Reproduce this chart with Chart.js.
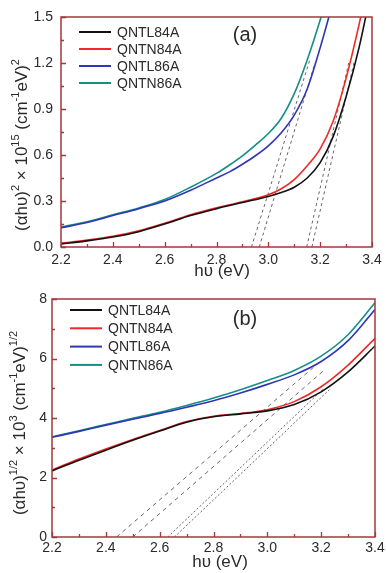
<!DOCTYPE html>
<html>
<head>
<meta charset="utf-8">
<script src="https://cdn.jsdelivr.net/npm/chart.js@4.4.1/dist/chart.umd.min.js"></script>
<style>
  html, body { margin: 0; padding: 0; background: #fff; }
  #wrap { position: relative; width: 386px; height: 573px; }
  canvas { position: absolute; left: 0; }
</style>
</head>
<body>
<div id="wrap">
  <canvas id="chartA" width="386" height="286" style="top:0"></canvas>
  <canvas id="chartB" width="386" height="287" style="top:286px"></canvas>
</div>
<script>
// series names (legend order)
var seriesNames = ['QNTL84A', 'QNTN84A', 'QNTL86A', 'QNTN86A'];

// ---- panel (a): (ahv)^2 x 10^15 ----
var energyA84 = [2.2, 2.3, 2.4, 2.5, 2.6, 2.7, 2.8, 2.9, 3.0, 3.05, 3.1, 3.15, 3.2, 3.25, 3.3, 3.35, 3.4];
var qntl84A_a = [0.02, 0.04, 0.065, 0.10, 0.15, 0.205, 0.25, 0.29, 0.33, 0.355, 0.39, 0.45, 0.55, 0.72, 0.98, 1.30, 1.70];
var qntn84A_a = [0.025, 0.045, 0.07, 0.105, 0.155, 0.21, 0.255, 0.295, 0.34, 0.38, 0.44, 0.53, 0.64, 0.82, 1.10, 1.45, 1.85];
var energyA86 = [2.2, 2.3, 2.4, 2.5, 2.6, 2.7, 2.8, 2.85, 2.9, 2.95, 3.0, 3.05, 3.1, 3.15, 3.2, 3.25];
var qntl86A_a = [0.125, 0.16, 0.205, 0.25, 0.30, 0.37, 0.45, 0.49, 0.54, 0.595, 0.66, 0.745, 0.86, 1.03, 1.30, 1.60];
var qntn86A_a = [0.13, 0.165, 0.21, 0.255, 0.31, 0.39, 0.48, 0.535, 0.595, 0.665, 0.74, 0.84, 1.00, 1.22, 1.48, 1.78];
// tangent (extrapolation) lines, [start, end]
var tangentA_E = [[2.935, 3.16], [2.965, 3.18], [3.148, 3.31], [3.168, 3.33]];
var tangentA_V = [[0, 1.22], [0, 1.2], [0, 1.2], [0, 1.2]];

// ---- panel (b): (ahv)^1/2 x 10^3 ----
var energyB = [2.2, 2.3, 2.4, 2.5, 2.6, 2.7, 2.8, 2.9, 3.0, 3.1, 3.2, 3.3, 3.4];
var qntl84A_b = [2.22, 2.58, 2.92, 3.25, 3.56, 3.86, 4.04, 4.14, 4.24, 4.45, 4.88, 5.55, 6.42];
var qntn84A_b = [2.25, 2.62, 2.96, 3.28, 3.58, 3.88, 4.06, 4.15, 4.28, 4.55, 5.05, 5.78, 6.68];
var qntl86A_b = [3.35, 3.55, 3.76, 3.96, 4.15, 4.36, 4.58, 4.84, 5.13, 5.45, 5.90, 6.60, 7.65];
var qntn86A_b = [3.37, 3.57, 3.78, 3.99, 4.19, 4.42, 4.67, 4.95, 5.26, 5.60, 6.08, 6.80, 7.87];
var tangentB_E = [[2.44, 3.19], [2.50, 3.21], [2.63, 3.21], [2.655, 3.23]];
var tangentB_V = [[0, 5.85], [0, 5.6], [0, 5.0], [0, 4.95]];

// ticks
var xTicks = [2.2, 3.4, 0.2];
var yTicksA = [0, 1.5, 0.3];
var yTicksB = [0, 8, 2];

var lineColors = ['#111111', '#f02828', '#3036b4', '#138f86'];
var FRAME = '#a3393b';
var TEXT = '#2a2a2a';
var FONT = '"Liberation Sans", Arial, sans-serif';

function pts(xs, ys) {
    return xs.map(function (x, i) { return { x: x, y: ys[i] }; });
}

function buildDatasets(curves, tanE, tanV, dashes) {
    var sets = [];
    curves.forEach(function (c, i) {
        sets.push({
            label: seriesNames[i],
            data: pts(c[0], c[1]),
            borderColor: lineColors[i],
            borderWidth: 1.6,
            pointRadius: 0,
            cubicInterpolationMode: 'monotone',
            fill: false
        });
    });
    tanE.forEach(function (e, i) {
        sets.push({
            label: '',
            data: pts(e, tanV[i]),
            borderColor: '#666',
            borderWidth: 1,
            borderDash: dashes[i],
            pointRadius: 0,
            fill: false
        });
    });
    return sets;
}

// frame, inward ticks, titles, legend
var decorPlugin = {
    id: 'decor',
    afterDraw: function (chart, args, o) {
        var ctx = chart.ctx, a = chart.chartArea;
        var xs = chart.scales.x, ys = chart.scales.y;
        var i, n, v, p;
        ctx.save();
        ctx.strokeStyle = FRAME;
        ctx.lineWidth = 1.3;
        ctx.beginPath();
        n = Math.round((xs.max - xs.min) / o.xMinor);
        for (i = 0; i <= n; i++) {
            v = xs.min + i * o.xMinor;
            p = Math.round(xs.getPixelForValue(v)) + 0.5;
            ctx.moveTo(p, a.bottom);
            ctx.lineTo(p, a.bottom - (i % 2 === 0 ? 5 : 3));
        }
        n = Math.round((ys.max - ys.min) / o.yMinor);
        for (i = 0; i <= n; i++) {
            v = ys.min + i * o.yMinor;
            p = Math.round(ys.getPixelForValue(v)) + 0.5;
            ctx.moveTo(a.left, p);
            ctx.lineTo(a.left + (i % 2 === 0 ? 5 : 3), p);
        }
        ctx.stroke();
        ctx.lineWidth = 1.5;
        ctx.strokeRect(a.left, a.top, a.right - a.left, a.bottom - a.top);

        // legend
        ctx.font = '14px ' + FONT;
        ctx.textBaseline = 'middle';
        ctx.textAlign = 'left';
        for (i = 0; i < seriesNames.length; i++) {
            var ly = o.legY + i * o.legStep;
            ctx.strokeStyle = lineColors[i];
            ctx.lineWidth = 2;
            ctx.beginPath();
            ctx.moveTo(o.legX, ly);
            ctx.lineTo(o.legX + 32, ly);
            ctx.stroke();
            ctx.fillStyle = TEXT;
            ctx.fillText(seriesNames[i], o.legX + 38, ly + 1);
        }

        // panel label
        ctx.font = '20px ' + FONT;
        ctx.textAlign = 'center';
        ctx.fillText(o.panel, o.panelX, o.panelY);

        // x title
        ctx.font = '17px ' + FONT;
        ctx.fillText('h\u03c5 (eV)', o.xTitleX, o.xTitleY);

        // y title with superscripts, rotated
        var big = '17px ' + FONT, small = '11px ' + FONT;
        var w = 0;
        o.yTitle.forEach(function (s) {
            ctx.font = s[1] ? small : big;
            w += ctx.measureText(s[0]).width;
        });
        ctx.translate(o.yTitleX, o.yTitleY);
        ctx.rotate(-Math.PI / 2);
        ctx.textAlign = 'left';
        ctx.textBaseline = 'alphabetic';
        var cx = -w / 2;
        o.yTitle.forEach(function (s) {
            ctx.font = s[1] ? small : big;
            ctx.fillText(s[0], cx, s[1] ? -8 : 0);
            cx += ctx.measureText(s[0]).width;
        });
        ctx.restore();
    }
};

function makeOptions(cfg) {
    return {
        responsive: false,
        animation: false,
        devicePixelRatio: 1,
        layout: { padding: { left: 0, right: cfg.padRight, top: cfg.padTop, bottom: 0 } },
        plugins: {
            legend: { display: false },
            tooltip: { enabled: false },
            decor: cfg.decor
        },
        scales: {
            x: {
                type: 'linear',
                min: xTicks[0], max: xTicks[1],
                grid: { display: false, drawTicks: false },
                border: { display: false },
                ticks: {
                    stepSize: xTicks[2], padding: cfg.xPad, color: TEXT, maxRotation: 0, autoSkip: false,
                    font: { family: FONT, size: 14 },
                    callback: function (v) { return Number(v).toFixed(1); }
                },
                afterFit: function (s) { s.height = cfg.xHeight; s.paddingLeft = 0; s.paddingRight = 0; }
            },
            y: {
                type: 'linear',
                min: cfg.yTicks[0], max: cfg.yTicks[1],
                grid: { display: false, drawTicks: false },
                border: { display: false },
                ticks: {
                    stepSize: cfg.yTicks[2], padding: cfg.yPad, color: TEXT, autoSkip: false,
                    font: { family: FONT, size: 14 },
                    callback: function (v) { return Number(v).toFixed(cfg.yDec); }
                },
                afterFit: function (s) { s.width = cfg.yWidth; s.paddingTop = 0; s.paddingBottom = 0; }
            }
        }
    };
}

var dashA = [[3, 3], [3, 3], [3, 3], [3, 3]];
var dashB = [[4, 4], [4, 4], [2, 2], [2, 2]];

new Chart(document.getElementById('chartA').getContext('2d'), {
    type: 'line',
    data: {
        datasets: buildDatasets([
            [energyA84, qntl84A_a], [energyA84, qntn84A_a], [energyA86, qntl86A_a], [energyA86, qntn86A_a]
        ], tangentA_E, tangentA_V, dashA)
    },
    options: makeOptions({
        padRight: 14, padTop: 17, xHeight: 39, yWidth: 61, xPad: 5, yPad: 8, yDec: 1, yTicks: yTicksA,
        decor: {
            xMinor: 0.1, yMinor: 0.15, legX: 79, legY: 32, legStep: 17,
            panel: '(a)', panelX: 245, panelY: 35,
            xTitleX: 222, xTitleY: 271,
            yTitleX: 27, yTitleY: 145,
            yTitle: [['(\u03b1h\u03c5)', 0], ['2', 1], [' \u00d7 10', 0], ['15', 1], [' (cm', 0], ['-1', 1], ['eV)', 0], ['2', 1]]
        }
    }),
    plugins: [decorPlugin]
});

new Chart(document.getElementById('chartB').getContext('2d'), {
    type: 'line',
    data: {
        datasets: buildDatasets([
            [energyB, qntl84A_b], [energyB, qntn84A_b], [energyB, qntl86A_b], [energyB, qntn86A_b]
        ], tangentB_E, tangentB_V, dashB)
    },
    options: makeOptions({
        padRight: 11, padTop: 13, xHeight: 36, yWidth: 52, xPad: 3, yPad: 5, yDec: 0, yTicks: yTicksB,
        decor: {
            xMinor: 0.1, yMinor: 1, legX: 70, legY: 24, legStep: 18.3,
            panel: '(b)', panelX: 245, panelY: 33,
            xTitleX: 220, xTitleY: 276,
            yTitleX: 25, yTitleY: 137,
            yTitle: [['(\u03b1h\u03c5)', 0], ['1/2', 1], [' \u00d7 10', 0], ['3', 1], [' (cm', 0], ['-1', 1], ['eV)', 0], ['1/2', 1]]
        }
    }),
    plugins: [decorPlugin]
});
</script>
</body>
</html>
